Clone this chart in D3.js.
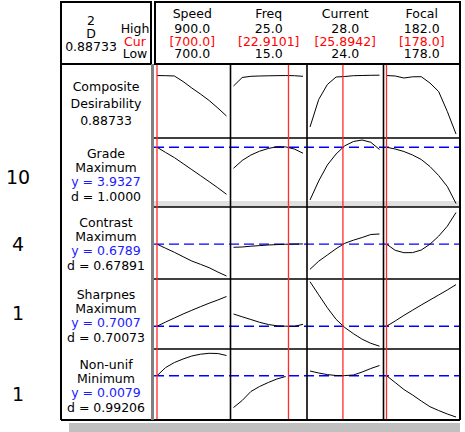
<!DOCTYPE html>
<html lang="en">
<head>
<meta charset="utf-8">
<title>Response Optimizer</title>
<script src="https://d3js.org/d3.v7.min.js"></script>
<style>
  body { margin: 0; background: #fff; }
  svg { display: block; font-family: "DejaVu Sans", Verdana, sans-serif; }
  .lbl { font-size: 12.5px; fill: #000; text-anchor: middle; }
  .red { fill: #ff0000; }
  .blue { fill: #1a1aff; }
  .imp { font-size: 19px; fill: #000; text-anchor: middle; }
  .curve { fill: none; stroke: #000; stroke-width: 1; }
  .grid { stroke: #000; stroke-width: 1.6; }
  .frame { stroke: #000; stroke-width: 2; fill: none; }
  .cur-line { stroke: #ff2a2a; stroke-width: 1.3; }
  .target { stroke: #0000ff; stroke-width: 1.4; stroke-dasharray: 10,5; }
</style>
</head>
<body>
<script>
// factors
var factors = ["Speed", "Freq", "Current", "Focal"];
var factorHigh = [900.0, 25.0, 28.0, 182.0];
var factorLow = [700.0, 15.0, 24.0, 178.0];
var factorCur = [700.0, 22.9101, 25.8942, 178.0];
var curDigits = [1, 4, 4, 1];

// x grid of each factor
var speedX = [700, 725, 750, 775, 800, 825, 850, 875, 900];
var freqX = [15, 16.25, 17.5, 18.75, 20, 21.25, 22.5, 23.75, 25];
var currentX = [24, 24.5, 25, 25.5, 26, 26.5, 27, 27.5, 28];
var focalX = [178, 178.5, 179, 179.5, 180, 180.5, 181, 181.5, 182];

// responses
var responses = ["Grade", "Contrast", "Sharpnes", "Non-unif"];
var goals = ["Maximum", "Maximum", "Maximum", "Minimum"];
var importance = [10, 4, 1, 1];
var predicted = [3.9327, 0.6789, 0.7007, 0.0079];
var dLabels = ["1.0000", "0.67891", "0.70073", "0.99206"];
var composite = 0.88733;
var solution = 2;

// value range shown in each row (composite first)
var rowDomains = [[0.30, 0.98], [3.0, 4.05], [0.603, 0.76], [0.60, 0.92], [0.0043, 0.010]];

// composite desirability
var compSpeed = [0.8873, 0.8860, 0.8830, 0.8294, 0.7663, 0.7080, 0.6449, 0.5720, 0.4943];
var compFreq = [0.7857, 0.8683, 0.8799, 0.8829, 0.8848, 0.8862, 0.8872, 0.8858, 0.8799];
var compCurrent = [0.3874, 0.6546, 0.8003, 0.8731, 0.8780, 0.8858, 0.8877, 0.8897, 0.8906];
var compFocal = [0.8873, 0.8829, 0.8634, 0.8751, 0.8760, 0.8149, 0.7323, 0.5380, 0.3194];

// Grade
var gradeSpeed = [3.9327, 3.8481, 3.7657, 3.6688, 3.5719, 3.4749, 3.3780, 3.2778, 3.1728];
var gradeFreq = [3.5929, 3.7189, 3.8077, 3.8691, 3.9127, 3.9418, 3.9386, 3.9046, 3.8368];
var gradeCurrent = [3.0808, 3.3877, 3.6462, 3.8239, 3.9563, 4.0258, 4.0500, 4.0129, 3.8965];
var gradeFocal = [3.9327, 3.9046, 3.8642, 3.8077, 3.7350, 3.6219, 3.4765, 3.2988, 3.0242];

// Contrast
var contSpeed = [0.6789, 0.6693, 0.6600, 0.6499, 0.6399, 0.6323, 0.6245, 0.6145, 0.6053];
var contFreq = [0.6716, 0.6723, 0.6741, 0.6755, 0.6769, 0.6778, 0.6786, 0.6791, 0.6793];
var contCurrent = [0.6208, 0.6395, 0.6538, 0.6683, 0.6808, 0.6880, 0.6942, 0.7011, 0.7023];
var contFocal = [0.6789, 0.6646, 0.6591, 0.6593, 0.6653, 0.6787, 0.6972, 0.7203, 0.7519];

// Sharpness
var sharpSpeed = [0.7007, 0.7212, 0.7406, 0.7600, 0.7779, 0.7954, 0.8124, 0.8279, 0.8448];
var sharpFreq = [0.7600, 0.7464, 0.7333, 0.7198, 0.7091, 0.7028, 0.7009, 0.6999, 0.7101];
var sharpCurrent = [0.9166, 0.8531, 0.7901, 0.7343, 0.6945, 0.6645, 0.6378, 0.6179, 0.6039];
var sharpFocal = [0.7007, 0.7261, 0.7532, 0.7784, 0.8036, 0.8279, 0.8521, 0.8764, 0.9025];

// Non-uniformity
var nonuSpeed = [0.0079, 0.008596, 0.009021, 0.009319, 0.009574, 0.009727, 0.009804, 0.009787, 0.009617];
var nonuFreq = [0.005193, 0.005789, 0.006554, 0.006980, 0.007320, 0.007618, 0.007831, null, null];
var nonuCurrent = [0.008298, 0.008128, 0.007992, 0.007915, 0.007907, 0.007958, 0.008213, 0.008511, 0.008766];
var nonuFocal = [0.0079, 0.007320, 0.006724, 0.006257, 0.005746, 0.005261, 0.004938, 0.004640, 0.004385];

var gridX = [speedX, freqX, currentX, focalX];
var curves = [
  [compSpeed, compFreq, compCurrent, compFocal],
  [gradeSpeed, gradeFreq, gradeCurrent, gradeFocal],
  [contSpeed, contFreq, contCurrent, contFocal],
  [sharpSpeed, sharpFreq, sharpCurrent, sharpFocal],
  [nonuSpeed, nonuFreq, nonuCurrent, nonuFocal]
];

var width = 465, height = 432;
var frameLeft = 61, labelRight = 151, plotLeft = 154, frameRight = 460, frameTop = 2, headBottom = 64;
var rowEdges = [64, 138, 207, 279, 349, 420];
var impBase = [184, 251, 320, 401];

var svg = d3.select("body").append("svg")
    .attr("width", width)
    .attr("height", height);

var col = d3.scaleBand().domain(factors).range([plotLeft, frameRight]);

var xScales = factors.map(function(f, i) {
  return d3.scaleLinear()
      .domain([factorLow[i], factorHigh[i]])
      .range([col(f) + 3, col(f) + col.bandwidth() - 4]);
});

var yScales = rowDomains.map(function(dom, r) {
  return d3.scaleLinear()
      .domain(dom)
      .range([rowEdges[r + 1] - 2, rowEdges[r] + 2]);
});

// scrollbar strip at the bottom
svg.append("rect")
    .attr("x", 69).attr("y", 423)
    .attr("width", frameRight - 69).attr("height", 9)
    .attr("fill", "#c0c0c0");

// grey strip under the Grade row
svg.append("rect")
    .attr("x", plotLeft).attr("y", rowEdges[2] - 6)
    .attr("width", frameRight - plotLeft).attr("height", 6)
    .attr("fill", "#e0e0e0");

// target lines
svg.append("g").selectAll("line")
    .data(predicted)
    .enter().append("line")
    .attr("class", "target")
    .attr("x1", plotLeft).attr("x2", frameRight)
    .attr("y1", (d, i) => yScales[i + 1](d))
    .attr("y2", (d, i) => yScales[i + 1](d));

// curves
var cg = svg.append("g");
curves.forEach(function(row, r) {
  row.forEach(function(vals, c) {
    var pts = vals.map((v, k) => [gridX[c][k], v]);
    var line = d3.line()
        .defined(d => d[1] != null)
        .x(d => xScales[c](d[0]))
        .y(d => yScales[r](d[1]));
    cg.append("path")
        .attr("class", "curve")
        .attr("d", line(pts));
  });
});

// grid lines
var gg = svg.append("g");
rowEdges.slice(1, 5).forEach(function(y) {
  gg.append("line").attr("class", "grid")
      .attr("x1", plotLeft).attr("x2", frameRight).attr("y1", y).attr("y2", y);
});
factors.slice(1).forEach(function(f) {
  gg.append("line").attr("class", "grid")
      .attr("x1", col(f)).attr("x2", col(f))
      .attr("y1", headBottom).attr("y2", rowEdges[5]);
});

// current setting lines
svg.append("g").selectAll("line")
    .data(factorCur)
    .enter().append("line")
    .attr("class", "cur-line")
    .attr("x1", (d, i) => xScales[i](d))
    .attr("x2", (d, i) => xScales[i](d))
    .attr("y1", headBottom).attr("y2", rowEdges[5]);

// frame
var fg = svg.append("g");
fg.append("rect").attr("class", "frame")
    .attr("x", frameLeft).attr("y", frameTop)
    .attr("width", labelRight - frameLeft).attr("height", headBottom - frameTop);
fg.append("rect").attr("class", "frame")
    .attr("x", plotLeft + 1).attr("y", frameTop)
    .attr("width", frameRight - plotLeft - 1).attr("height", headBottom - frameTop);
fg.append("line").attr("class", "frame")
    .attr("x1", frameLeft).attr("x2", frameLeft).attr("y1", headBottom).attr("y2", rowEdges[5]);
fg.append("line").attr("class", "frame")
    .attr("x1", frameRight).attr("x2", frameRight).attr("y1", headBottom).attr("y2", rowEdges[5]);
fg.append("line").attr("class", "frame")
    .attr("x1", frameLeft).attr("x2", frameRight).attr("y1", rowEdges[5]).attr("y2", rowEdges[5]);
fg.append("line")
    .attr("x1", 152.5).attr("x2", 152.5).attr("y1", headBottom).attr("y2", rowEdges[5])
    .attr("stroke", "#808080").attr("stroke-width", 3);

// header: left box
var hx = 91, hx2 = 135;
svg.append("text").attr("class", "lbl").attr("x", hx).attr("y", 25).text(solution);
svg.append("text").attr("class", "lbl").attr("x", hx).attr("y", 37.5).text("D");
svg.append("text").attr("class", "lbl").attr("x", hx).attr("y", 51).text(composite.toFixed(5));
svg.append("text").attr("class", "lbl").attr("x", hx2).attr("y", 33).text("High");
svg.append("text").attr("class", "lbl red").attr("x", hx2).attr("y", 45.5).text("Cur");
svg.append("text").attr("class", "lbl").attr("x", hx2).attr("y", 58).text("Low");

// header: factors
var head = svg.append("g").selectAll("g")
    .data(factors)
    .enter().append("g")
    .attr("transform", d => "translate(" + (col(d) + col.bandwidth() / 2) + ",0)");
head.append("text").attr("class", "lbl").attr("y", 17.5).text(d => d);
head.append("text").attr("class", "lbl").attr("y", 32.5)
    .text((d, i) => factorHigh[i].toFixed(1));
head.append("text").attr("class", "lbl red").attr("y", 45.5)
    .text((d, i) => "[" + factorCur[i].toFixed(curDigits[i]) + "]");
head.append("text").attr("class", "lbl").attr("y", 58)
    .text((d, i) => factorLow[i].toFixed(1));

// row labels
var lx = (frameLeft + labelRight) / 2;
svg.append("text").attr("class", "lbl").attr("x", lx).attr("y", rowEdges[0] + 26.7).text("Composite");
svg.append("text").attr("class", "lbl").attr("x", lx).attr("y", rowEdges[0] + 43.7).text("Desirability");
svg.append("text").attr("class", "lbl").attr("x", lx).attr("y", rowEdges[0] + 61).text(composite.toFixed(5));

responses.forEach(function(name, i) {
  var y0 = rowEdges[i + 1];
  svg.append("text").attr("class", "lbl").attr("x", lx).attr("y", y0 + 20).text(name);
  svg.append("text").attr("class", "lbl").attr("x", lx).attr("y", y0 + 34).text(goals[i]);
  svg.append("text").attr("class", "lbl blue").attr("x", lx).attr("y", y0 + 47.5)
      .text("y = " + predicted[i].toFixed(4));
  svg.append("text").attr("class", "lbl").attr("x", lx).attr("y", y0 + 62.5)
      .text("d = " + dLabels[i]);
  svg.append("text").attr("class", "imp").attr("x", 18).attr("y", impBase[i]).text(importance[i]);
});
</script>
</body>
</html>
